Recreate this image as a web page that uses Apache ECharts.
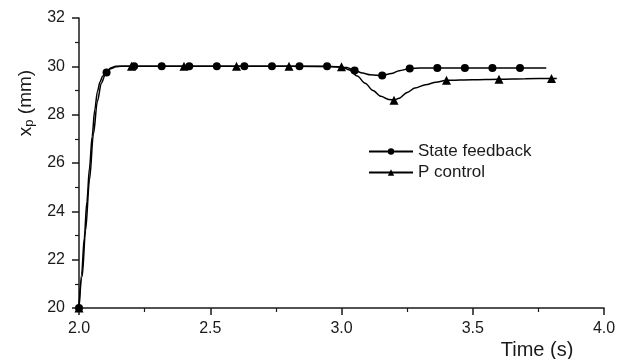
<!DOCTYPE html>
<html>
<head>
<meta charset="utf-8">
<script src="https://cdn.jsdelivr.net/npm/echarts@6/dist/echarts.min.js"></script>
<style>html,body{margin:0;padding:0;background:#fff}#c{width:627px;height:359px}</style>
</head>
<body>
<div id="c"></div>
<script>
// ---- data ----
const seriesNames = ['State feedback', 'P control'];
const xTicks = [2.0, 2.5, 3.0, 3.5, 4.0];
const yTicks = [20, 22, 24, 26, 28, 30, 32];

// State feedback: curve points (no marker)
const sfCurveT = [2.01, 2.02, 2.03, 2.04, 2.05, 2.06, 2.07, 2.08, 2.09, 2.12, 2.14, 3.02, 3.08, 3.11, 3.19, 3.22, 3.3, 3.78];
const sfCurveV = [21.4, 22.9, 24.4, 25.8, 27.1, 28.2, 28.95, 29.35, 29.6, 29.93, 30.0, 29.95, 29.72, 29.65, 29.7, 29.82, 29.93, 29.93];
// State feedback: marker points (circles)
const sfMarkT = [2.0, 2.105, 2.21, 2.315, 2.42, 2.525, 2.63, 2.735, 2.84, 2.945, 3.05, 3.155, 3.26, 3.365, 3.47, 3.575, 3.68];
const sfMarkV = [20.0, 29.75, 30.0, 30.0, 30.0, 30.0, 30.0, 30.0, 30.0, 30.0, 29.83, 29.62, 29.91, 29.93, 29.93, 29.93, 29.93];

// P control: curve points (no marker)
const pcCurveT = [2.012, 2.025, 2.04, 2.055, 2.07, 2.085, 2.1, 2.12, 2.14, 2.16, 3.03, 3.06, 3.09, 3.12, 3.15, 3.18, 3.22, 3.25, 3.28, 3.32, 3.36, 3.5, 3.7, 3.82];
const pcCurveV = [21.3, 23.2, 25.3, 27.2, 28.55, 29.3, 29.65, 29.9, 29.98, 30.0, 29.85, 29.6, 29.3, 29.0, 28.76, 28.63, 28.68, 28.92, 29.1, 29.24, 29.34, 29.45, 29.49, 29.5];
// P control: marker points (triangles)
const pcMarkT = [2.0, 2.2, 2.4, 2.6, 2.8, 3.0, 3.2, 3.4, 3.6, 3.8];
const pcMarkV = [20.0, 30.0, 30.0, 30.0, 30.0, 29.98, 28.6, 29.42, 29.47, 29.5];

// ---- build series data ----
function build(curveT, curveV, markT, markV) {
  const pts = [];
  curveT.forEach((t, i) => pts.push({ value: [t, curveV[i]], symbol: 'none' }));
  markT.forEach((t, i) => pts.push({ value: [t, markV[i]] }));
  pts.sort((a, b) => a.value[0] - b.value[0]);
  return pts;
}

const FONT = '"Liberation Sans", Arial, sans-serif';
const INK = '#1a1a1a';

const chart = echarts.init(document.getElementById('c'), null, { renderer: 'canvas' });
chart.setOption({
  animation: false,
  backgroundColor: '#ffffff',
  grid: { left: 79, right: 23, top: 18, bottom: 51, containLabel: false },
  xAxis: {
    type: 'value', min: xTicks[0], max: xTicks[xTicks.length - 1], interval: 0.5,
    axisLine: { show: true, lineStyle: { color: INK, width: 1.5 } },
    axisTick: { show: true, inside: false, length: 7, lineStyle: { color: INK, width: 1.5 } },
    minorTick: { show: true, splitNumber: 2, length: 4, lineStyle: { color: INK, width: 1.2 } },
    splitLine: { show: false },
    axisLabel: { color: INK, fontSize: 16, fontFamily: FONT, margin: 13, formatter: v => v.toFixed(1) }
  },
  yAxis: {
    type: 'value', min: yTicks[0], max: yTicks[yTicks.length - 1], interval: 2,
    axisLine: { show: true, lineStyle: { color: INK, width: 1.5 } },
    axisTick: { show: true, inside: false, length: 7, lineStyle: { color: INK, width: 1.5 } },
    minorTick: { show: true, splitNumber: 2, length: 4, lineStyle: { color: INK, width: 1.2 } },
    splitLine: { show: false },
    axisLabel: { color: INK, fontSize: 16, fontFamily: FONT, margin: 14 }
  },
  legend: {
    orient: 'vertical', left: 368, top: 143, itemWidth: 44, itemHeight: 8, itemGap: 4,
    padding: 0,
    textStyle: { color: INK, fontSize: 17, fontFamily: FONT },
    data: seriesNames
  },
  graphic: [
    {
      type: 'text', x: 26, y: 103, rotation: Math.PI / 2,
      style: {
        text: '{a|x}{b|p}{a| (mm)}',
        align: 'center', verticalAlign: 'middle',
        fill: INK, fontFamily: FONT,
        rich: {
          a: { fontSize: 19, lineHeight: 20, fontFamily: FONT, fill: INK },
          b: { fontSize: 13, lineHeight: 2, fontFamily: FONT, fill: INK, verticalAlign: 'bottom' }
        }
      }
    },
    {
      type: 'text', x: 537, y: 350,
      style: { text: 'Time (s)', align: 'center', verticalAlign: 'middle', fill: INK, fontSize: 20, fontFamily: FONT }
    }
  ],
  series: [
    {
      name: seriesNames[0], type: 'line', data: build(sfCurveT, sfCurveV, sfMarkT, sfMarkV),
      symbol: 'circle', symbolSize: 8, showSymbol: true, showAllSymbol: true,
      smooth: 0.3, smoothMonotone: 'x',
      lineStyle: { color: '#000', width: 1.5 }, itemStyle: { color: '#000' }, z: 3
    },
    {
      name: seriesNames[1], type: 'line', data: build(pcCurveT, pcCurveV, pcMarkT, pcMarkV),
      symbol: 'triangle', symbolSize: 9, showSymbol: true, showAllSymbol: true,
      smooth: 0.3, smoothMonotone: 'x',
      lineStyle: { color: '#000', width: 1.5 }, itemStyle: { color: '#000' }, z: 2
    }
  ]
});
</script>
</body>
</html>
